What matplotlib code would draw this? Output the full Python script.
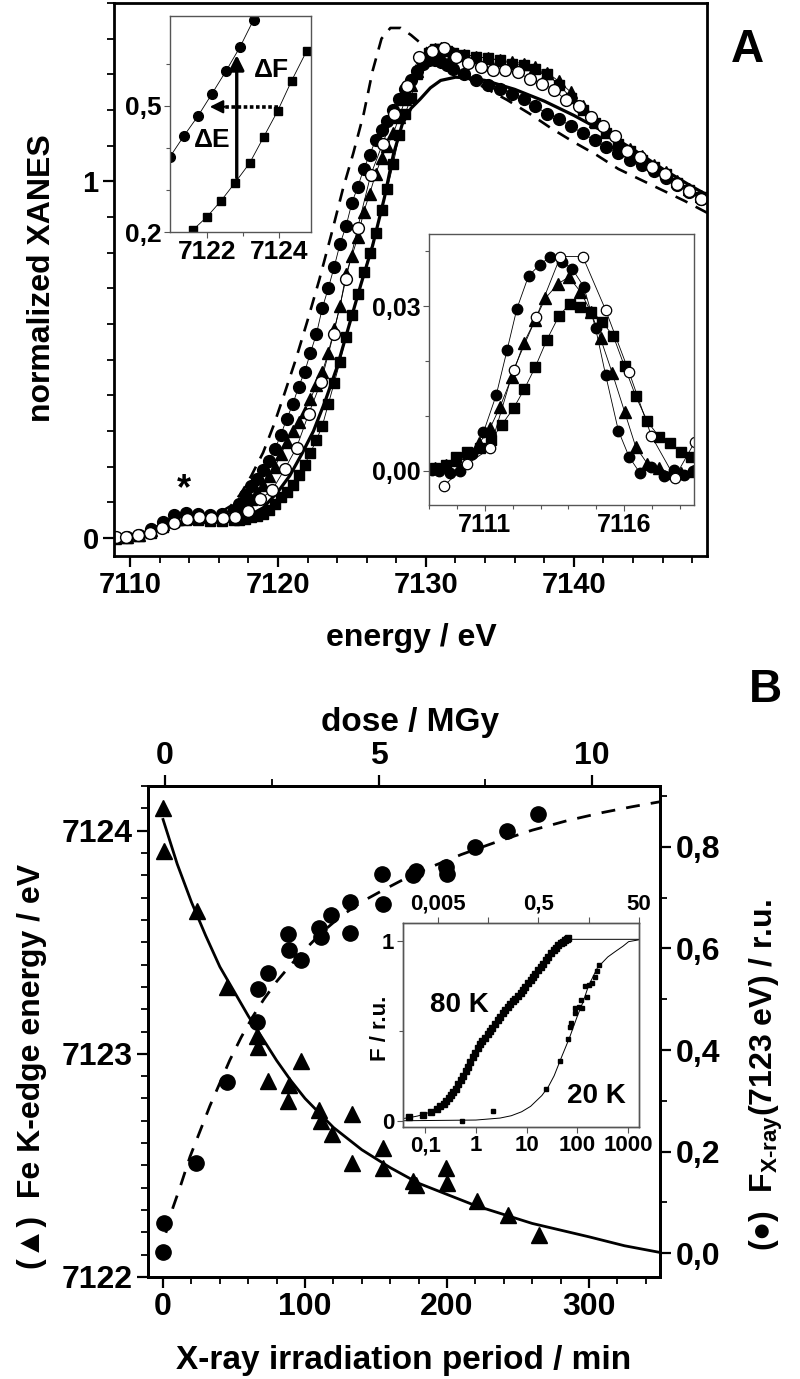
# XANES edge shift (A) and X-ray dose dependence (B)
import matplotlib
matplotlib.use('Agg')
import matplotlib.pyplot as plt
from matplotlib.ticker import MultipleLocator, FixedLocator, FuncFormatter, NullLocator, LogLocator, NullFormatter

plt.rcParams['font.family'] = ['Liberation Sans', 'DejaVu Sans']
plt.rcParams['font.weight'] = 'bold'
plt.rcParams['mathtext.fontset'] = 'custom'
plt.rcParams['mathtext.rm'] = 'Liberation Sans:bold'
plt.rcParams['mathtext.bf'] = 'Liberation Sans:bold'
plt.rcParams['mathtext.it'] = 'Liberation Sans:bold'

# ---------------- panel A data ----------------
e_grid = [7109.0, 7109.8, 7110.6, 7111.4, 7112.2, 7113.0, 7113.8, 7114.6, 7115.4, 7116.2,
          7117.0, 7117.4, 7117.8, 7118.2, 7118.6, 7119.0, 7119.4, 7119.8, 7120.2, 7120.6,
          7121.0, 7121.4, 7121.8, 7122.2, 7122.6, 7123.0, 7123.4, 7123.8, 7124.2, 7124.6,
          7125.0, 7125.4, 7125.8, 7126.2, 7126.6, 7127.0, 7127.4, 7127.8, 7128.2, 7128.6,
          7129.0, 7129.4, 7129.8, 7130.2, 7130.6, 7131.0, 7131.4, 7131.8,
          7132.6, 7133.4, 7134.2, 7135.0, 7135.8, 7136.6, 7137.4, 7138.2, 7139.0, 7139.8,
          7140.6, 7141.4, 7142.2, 7143.0, 7143.8, 7144.6, 7145.4, 7146.2, 7147.0, 7147.8, 7148.6]
fc_v = [0.0, 0.003, 0.010, 0.025, 0.045, 0.065, 0.070, 0.068, 0.065, 0.068,
        0.080, 0.095, 0.120, 0.145, 0.165, 0.190, 0.215, 0.250, 0.290, 0.335,
        0.375, 0.425, 0.465, 0.520, 0.572, 0.645, 0.700, 0.760, 0.825, 0.874,
        0.940, 0.985, 1.035, 1.075, 1.115, 1.145, 1.170, 1.200, 1.230, 1.260,
        1.285, 1.310, 1.330, 1.340, 1.340, 1.335, 1.325, 1.316,
        1.300, 1.285, 1.270, 1.260, 1.245, 1.230, 1.210, 1.190, 1.175, 1.155,
        1.135, 1.115, 1.095, 1.080, 1.060, 1.045, 1.030, 1.010, 0.990, 0.970, 0.950]
tr_v = [0.0, 0.003, 0.010, 0.022, 0.040, 0.058, 0.064, 0.063, 0.060, 0.062,
        0.065, 0.075, 0.090, 0.110, 0.130, 0.150, 0.175, 0.200, 0.235, 0.270,
        0.300, 0.325, 0.355, 0.390, 0.430, 0.465, 0.520, 0.585, 0.650, 0.740,
        0.790, 0.845, 0.915, 0.965, 1.020, 1.065, 1.100, 1.135, 1.180, 1.230,
        1.270, 1.310, 1.340, 1.360, 1.370, 1.375, 1.370, 1.360,
        1.355, 1.350, 1.345, 1.340, 1.335, 1.330, 1.320, 1.305, 1.280, 1.250,
        1.210, 1.170, 1.140, 1.110, 1.090, 1.070, 1.045, 1.025, 1.000, 0.980, 0.960]
sq_v = [0.0, 0.0, 0.005, 0.015, 0.030, 0.045, 0.050, 0.050, 0.048, 0.048,
        0.050, 0.052, 0.055, 0.058, 0.062, 0.068, 0.078, 0.096, 0.115, 0.130,
        0.150, 0.176, 0.205, 0.240, 0.275, 0.315, 0.375, 0.435, 0.495, 0.565,
        0.625, 0.685, 0.745, 0.800, 0.855, 0.920, 0.980, 1.050, 1.130, 1.190,
        1.235, 1.300, 1.340, 1.360, 1.370, 1.370, 1.365, 1.360,
        1.355, 1.350, 1.345, 1.340, 1.330, 1.325, 1.315, 1.300, 1.270, 1.235,
        1.200, 1.165, 1.135, 1.105, 1.085, 1.060, 1.040, 1.020, 0.995, 0.975, 0.955]
oc_e = [7109.06, 7109.71, 7110.52, 7111.35, 7112.16, 7113.0, 7113.83, 7114.66, 7115.47, 7116.28,
        7117.1, 7117.97, 7118.78, 7119.6, 7120.45, 7121.26, 7122.08, 7122.91, 7123.76, 7124.6,
        7125.39, 7126.27, 7127.08, 7127.84, 7128.74, 7129.53, 7130.39, 7131.22, 7132.03, 7132.87,
        7133.72, 7134.55, 7135.37, 7136.2, 7137.04, 7137.85, 7138.68, 7139.47, 7140.33, 7141.16,
        7141.95, 7142.78, 7143.62, 7144.46, 7145.3, 7146.15, 7146.94, 7147.78, 7148.6]
oc_v = [0.003, 0.003, 0.008, 0.014, 0.028, 0.042, 0.053, 0.059, 0.057, 0.056,
        0.060, 0.076, 0.109, 0.134, 0.193, 0.254, 0.349, 0.437, 0.572, 0.727,
        0.870, 1.018, 1.106, 1.190, 1.266, 1.348, 1.365, 1.373, 1.348, 1.332,
        1.322, 1.311, 1.311, 1.306, 1.286, 1.274, 1.257, 1.227, 1.210, 1.180,
        1.155, 1.126, 1.085, 1.068, 1.040, 1.020, 0.994, 0.973, 0.952]
dash_e = [7108.9, 7110.0, 7111.0, 7112.0, 7113.0, 7114.0, 7115.0, 7116.0, 7116.8, 7117.5,
          7118.2, 7119.0, 7119.7, 7120.4, 7121.2, 7122.0, 7122.8, 7123.6, 7124.4, 7125.1,
          7125.8, 7126.4, 7127.0, 7127.6, 7128.3, 7129.0, 7130.0, 7131.0, 7132.0, 7133.0,
          7134.0, 7135.5, 7137.0, 7138.5, 7140.0, 7141.5, 7143.0, 7144.5, 7146.0, 7147.5, 7149.1]
dash_v = [0.0, 0.005, 0.015, 0.035, 0.055, 0.065, 0.065, 0.070, 0.090, 0.125,
          0.175, 0.240, 0.315, 0.400, 0.500, 0.610, 0.725, 0.850, 0.980, 1.080,
          1.190, 1.310, 1.400, 1.430, 1.430, 1.410, 1.375, 1.340, 1.310, 1.285,
          1.262, 1.228, 1.190, 1.148, 1.110, 1.075, 1.035, 1.005, 0.975, 0.945, 0.910]
sol_e = [7108.9, 7111.0, 7113.0, 7115.0, 7117.0, 7118.0, 7119.0, 7120.0, 7120.8, 7121.6,
         7122.4, 7123.2, 7124.0, 7124.8, 7125.6, 7126.4, 7127.2, 7127.8, 7128.4, 7129.0,
         7129.6, 7130.3, 7131.0, 7132.0, 7133.0, 7134.0, 7136.0, 7138.0, 7140.0, 7142.0,
         7144.0, 7146.0, 7148.0, 7149.1]
sol_v = [0.0, 0.012, 0.035, 0.045, 0.05, 0.062, 0.085, 0.13, 0.175, 0.235,
         0.30, 0.385, 0.48, 0.595, 0.71, 0.82, 0.955, 1.075, 1.16, 1.205,
         1.23, 1.262, 1.283, 1.292, 1.29, 1.283, 1.258, 1.225, 1.185, 1.14,
         1.09, 1.035, 0.985, 0.96]

# inset: edge detail
in1_fc_e = [7120.97, 7121.36, 7121.75, 7122.14, 7122.53, 7122.92, 7123.3]
in1_fc_v = [0.379, 0.429, 0.476, 0.529, 0.583, 0.640, 0.705]
in1_sq_e = [7121.61, 7122.0, 7122.39, 7122.78, 7123.19, 7123.58, 7123.97, 7124.36, 7124.78]
in1_sq_v = [0.205, 0.236, 0.274, 0.317, 0.364, 0.426, 0.488, 0.560, 0.631]

# inset: pre-edge
fc2_e = [7109.1, 7109.37, 7109.76, 7110.12, 7110.55, 7110.95, 7111.41, 7111.8, 7112.15, 7112.57,
         7112.97, 7113.35, 7113.77, 7114.13, 7114.55, 7114.97, 7115.33, 7115.79, 7116.17, 7116.55,
         7116.95, 7117.43, 7117.79, 7118.15, 7118.45]
fc2_v = [0.0002, 0.0, -0.0004, 0.0, 0.003, 0.007, 0.0138, 0.022, 0.0295, 0.0355,
         0.0375, 0.039, 0.038, 0.0368, 0.0335, 0.026, 0.0175, 0.0073, 0.0026, -0.0003,
         0.0008, -0.0009, 0.0002, -0.0007, 0.0]
tr2_e = [7109.2, 7109.6, 7109.97, 7110.41, 7110.81, 7111.19, 7111.55, 7111.97, 7112.39, 7112.81,
         7113.17, 7113.62, 7114.01, 7114.43, 7114.8, 7115.15, 7115.57, 7116.01, 7116.41, 7116.83,
         7117.25, 7117.67, 7118.03, 7118.45]
tr2_v = [0.0005, 0.001, 0.002, 0.0032, 0.0051, 0.0078, 0.0117, 0.0171, 0.0232, 0.0275,
         0.0314, 0.034, 0.0353, 0.0326, 0.029, 0.0241, 0.0178, 0.0108, 0.0044, 0.0013,
         0.0005, -0.0004, -0.0004, -0.0001]
oc2_e = [7109.54, 7110.38, 7111.19, 7112.03, 7112.85, 7113.71, 7114.51, 7115.33, 7116.17, 7116.97, 7117.81, 7118.53]
oc2_v = [-0.0027, 0.0013, 0.0041, 0.0184, 0.028, 0.039, 0.039, 0.0293, 0.018, 0.0064, -0.0012, 0.0053]
sq2_e = [7109.2, 7109.6, 7109.98, 7110.36, 7110.83, 7111.22, 7111.61, 7112.03, 7112.42, 7112.81,
         7113.23, 7113.65, 7114.04, 7114.41, 7114.82, 7115.21, 7115.61, 7116.01, 7116.41, 7116.83,
         7117.25, 7117.64, 7118.03, 7118.39]
sq2_v = [0.0005, 0.001, 0.0025, 0.0035, 0.0041, 0.0056, 0.0084, 0.0114, 0.0149, 0.0189,
         0.0239, 0.0281, 0.0304, 0.0299, 0.029, 0.0271, 0.0245, 0.019, 0.0136, 0.009,
         0.0062, 0.005, 0.0035, 0.0026]

# ---------------- panel B data ----------------
tri_t = [0, 1, 24, 45, 66, 67, 74, 88, 89, 97, 110, 111, 119, 133, 133, 155, 155, 176, 178, 199, 200, 221, 243, 265]
tri_e = [7124.10, 7123.91, 7123.64, 7123.30, 7123.08, 7123.03, 7122.88, 7122.79, 7122.86, 7122.97,
         7122.75, 7122.70, 7122.64, 7122.73, 7122.51, 7122.58, 7122.49, 7122.43, 7122.41, 7122.49,
         7122.42, 7122.34, 7122.28, 7122.19]
fit_t = [0, 10, 20, 30, 40, 50, 60, 70, 80, 90, 100, 120, 140, 160, 180, 200, 220, 240, 260, 280, 300, 325, 350]
fit_e = [7124.05, 7123.85, 7123.68, 7123.53, 7123.39, 7123.28, 7123.17, 7123.07, 7122.97, 7122.88,
         7122.80, 7122.67, 7122.57, 7122.49, 7122.42, 7122.37, 7122.32, 7122.28, 7122.24, 7122.21,
         7122.18, 7122.14, 7122.11]
circ_t = [0, 1, 23, 45, 66, 67, 74, 88, 89, 97, 110, 111, 118, 132, 132, 154, 155, 176, 178, 199, 200, 220, 242, 264]
circ_f = [0.003, 0.060, 0.178, 0.338, 0.455, 0.521, 0.551, 0.629, 0.597, 0.577, 0.640, 0.622,
          0.666, 0.692, 0.631, 0.746, 0.688, 0.745, 0.752, 0.760, 0.747, 0.800, 0.831, 0.864]
dfit_t = [2, 7, 12, 19, 26, 33, 40, 47, 55, 63, 71, 80, 90, 100, 112, 125, 140, 155, 170, 190,
          210, 235, 260, 285, 310, 330, 350]
dfit_f = [0.04, 0.09, 0.13, 0.19, 0.24, 0.29, 0.335, 0.38, 0.425, 0.465, 0.50, 0.535, 0.568, 0.598,
          0.632, 0.663, 0.692, 0.715, 0.737, 0.762, 0.785, 0.81, 0.833, 0.852, 0.868, 0.879, 0.889]

# inset B: 80 K and 20 K kinetics
k80_x = [0.048, 0.09, 0.13, 0.17, 0.2, 0.23, 0.26, 0.29, 0.32, 0.36, 0.4, 0.45, 0.5, 0.56, 0.63,
         0.7, 0.78, 0.87, 0.97, 1.08, 1.2, 1.35, 1.5, 1.7, 1.9, 2.1, 2.4, 2.7, 3.0, 3.4, 3.8,
         4.3, 4.8, 5.4, 6.0, 6.8, 7.6, 8.5, 9.5, 10.7, 12, 13.5, 15, 17, 19, 21, 24, 27, 30,
         34, 38, 42, 47, 52, 57, 62, 66]
k80_f = [0.022, 0.032, 0.046, 0.066, 0.082, 0.095, 0.112, 0.128, 0.142, 0.16, 0.178, 0.204, 0.225,
         0.25, 0.275, 0.298, 0.325, 0.352, 0.378, 0.402, 0.425, 0.445, 0.462, 0.482, 0.5, 0.518,
         0.54, 0.56, 0.577, 0.597, 0.613, 0.632, 0.648, 0.664, 0.678, 0.695, 0.71, 0.727, 0.745,
         0.763, 0.782, 0.8, 0.818, 0.838, 0.856, 0.872, 0.893, 0.912, 0.93, 0.948, 0.962, 0.975,
         0.986, 0.995, 1.004, 1.01, 1.015]
fit80_x = [0.036, 0.05, 0.07, 0.1, 0.15, 0.2, 0.3, 0.5, 0.7, 1, 1.5, 2, 3, 5, 8, 12, 20, 30, 45,
           60, 80, 120, 1630]
fit80_f = [0.012, 0.018, 0.026, 0.038, 0.058, 0.08, 0.132, 0.225, 0.298, 0.39, 0.462, 0.51, 0.577,
           0.655, 0.72, 0.78, 0.865, 0.925, 0.983, 1.005, 1.008, 1.008, 1.008]
k20_x = [0.53, 2.13, 24, 46, 67, 72.8, 76, 88.5, 90, 109, 120, 126, 144, 155, 167, 194, 219, 244, 263]
k20_f = [0.0, 0.056, 0.174, 0.333, 0.452, 0.519, 0.544, 0.597, 0.624, 0.63, 0.67, 0.624, 0.748,
         0.689, 0.754, 0.763, 0.8, 0.833, 0.865]
fit20_x = [0.036, 1, 3, 5, 8, 12, 20, 27, 35, 50, 70, 100, 130, 167, 250, 400, 562, 800, 1030, 1630]
fit20_f = [0.0, 0.004, 0.015, 0.028, 0.05, 0.08, 0.14, 0.19, 0.25, 0.36, 0.46, 0.58, 0.66, 0.75,
           0.85, 0.91, 0.94, 0.97, 0.995, 1.005]

W, H = 800, 1379
fig = plt.figure(figsize=(W / 100, H / 100), dpi=100)


def px_axes(l, t, r, b):
    return fig.add_axes([l / W, 1 - b / H, (r - l) / W, (b - t) / H])


def comma(fmt):
    return FuncFormatter(lambda v, p: (fmt % v).replace('.', ','))


def style_main(ax, size):
    for s in ax.spines.values():
        s.set_linewidth(2)
    ax.tick_params(which='major', direction='out', length=8, width=1.6, labelsize=size, pad=3)
    ax.tick_params(which='minor', direction='out', length=5, width=1.3)


def style_inset(ax, size):
    for s in ax.spines.values():
        s.set_linewidth(1.0)
        s.set_color('#555555')
    ax.tick_params(which='major', direction='out', length=4, width=0.8, labelsize=size, pad=2,
                   color='#555555')
    ax.tick_params(which='minor', direction='out', length=3, width=0.8, color='#555555')


# ---------------- panel A ----------------
axA = px_axes(114, 3, 707, 556)
axA.plot(dash_e, dash_v, color='k', lw=1.9, ls='--', dashes=(5, 3.5))
axA.plot(sol_e, sol_v, color='k', lw=2.3)
axA.plot(e_grid, fc_v, color='k', lw=0.6, marker='o', ms=8.5, mfc='k', mec='k')
axA.plot(e_grid, tr_v, color='k', lw=0.6, marker='^', ms=9, mfc='k', mec='k')
axA.plot(e_grid, sq_v, color='k', lw=0.6, marker='s', ms=7.5, mfc='k', mec='k')
axA.plot(oc_e, oc_v, color='k', lw=0.6, marker='o', ms=8.5, mfc='white', mec='k', mew=1.0)
axA.set_xlim(7108.92, 7149.0)
axA.set_ylim(-0.05, 1.5)
axA.xaxis.set_major_locator(MultipleLocator(10))
axA.xaxis.set_minor_locator(MultipleLocator(2))
axA.yaxis.set_major_locator(MultipleLocator(1))
axA.yaxis.set_minor_locator(MultipleLocator(0.1))
style_main(axA, 21)
fig.text(411 / W, 1 - 646 / H, 'energy / eV', ha='center', va='baseline', fontsize=23)
fig.text(42 / W, 1 - 278 / H, 'normalized XANES', ha='center', va='center', rotation=90, fontsize=23)
fig.text(184 / W, 1 - 490 / H, '*', ha='center', va='center', fontsize=26)
fig.text(747 / W, 1 - 50 / H, 'A', ha='center', va='center', fontsize=33)

# inset: edge detail
ax1 = px_axes(170, 16, 311, 232)
ax1.plot(in1_fc_e, in1_fc_v, color='k', lw=0.6, marker='o', ms=7, mfc='k', mec='k')
ax1.plot(in1_sq_e, in1_sq_v, color='k', lw=0.6, marker='s', ms=6, mfc='k', mec='k')
ax1.annotate('', xy=(7122.83, 0.621), xytext=(7122.83, 0.329),
             arrowprops=dict(arrowstyle='-|>', lw=2.4, color='k', mutation_scale=22, shrinkA=0, shrinkB=0))
ax1.plot([7123.97, 7122.4], [0.498, 0.498], color='k', lw=2.6, ls=(0, (1.0, 0.7)))
ax1.annotate('', xy=(7122.08, 0.498), xytext=(7122.5, 0.498),
             arrowprops=dict(arrowstyle='-|>', lw=1.5, color='k', mutation_scale=20, shrinkA=0, shrinkB=0))
ax1.text(7123.8, 0.586, 'ΔF', ha='center', va='center', fontsize=19)
ax1.text(7122.14, 0.419, 'ΔE', ha='center', va='center', fontsize=19)
ax1.set_xlim(7120.97, 7124.9)
ax1.set_ylim(0.2, 0.714)
ax1.xaxis.set_major_locator(FixedLocator([7122, 7124]))
ax1.xaxis.set_minor_locator(FixedLocator([7123]))
ax1.yaxis.set_major_locator(FixedLocator([0.2, 0.5]))
ax1.yaxis.set_minor_locator(FixedLocator([0.3, 0.4, 0.6]))
ax1.yaxis.set_major_formatter(comma('%.1f'))
style_inset(ax1, 19)

# inset: pre-edge
ax2 = px_axes(429, 234, 694, 505)
ax2.plot(sq2_e, sq2_v, color='k', lw=0.6, marker='s', ms=6.5, mfc='k', mec='k')
ax2.plot(tr2_e, tr2_v, color='k', lw=0.6, marker='^', ms=8, mfc='k', mec='k')
ax2.plot(fc2_e, fc2_v, color='k', lw=0.6, marker='o', ms=7.5, mfc='k', mec='k')
ax2.plot(oc2_e, oc2_v, color='k', lw=0.6, marker='o', ms=7.5, mfc='white', mec='k', mew=0.9)
ax2.set_xlim(7109, 7118.5)
ax2.set_ylim(-0.0062, 0.0431)
ax2.xaxis.set_major_locator(FixedLocator([7111, 7116]))
ax2.xaxis.set_minor_locator(MultipleLocator(1))
ax2.yaxis.set_major_locator(FixedLocator([0.0, 0.03]))
ax2.yaxis.set_minor_locator(FixedLocator([0.01, 0.02, 0.04]))
ax2.yaxis.set_major_formatter(comma('%.2f'))
style_inset(ax2, 18)

# ---------------- panel B ----------------
axB = px_axes(148, 786, 660, 1277)
axB.plot(fit_t, fit_e, color='k', lw=2.0)
axB.plot(tri_t, tri_e, ls='none', marker='^', ms=12, mfc='k', mec='k')
axB.set_xlim(-10.6, 350)
axB.set_ylim(7122, 7124.2)
axB.xaxis.set_major_locator(MultipleLocator(100))
axB.xaxis.set_minor_locator(MultipleLocator(20))
axB.yaxis.set_major_locator(MultipleLocator(1))
axB.yaxis.set_minor_locator(MultipleLocator(0.1))
axB.yaxis.set_major_formatter(FuncFormatter(lambda v, p: '%d' % round(v)))
style_main(axB, 23)

axR = axB.twinx()
axR.plot(dfit_t, dfit_f, color='k', lw=2.0, ls='--', dashes=(5, 4))
axR.plot(circ_t, circ_f, ls='none', marker='o', ms=11, mfc='k', mec='k')
axR.set_ylim(-0.047, 0.92)
axR.yaxis.set_major_locator(MultipleLocator(0.2))
axR.yaxis.set_minor_locator(MultipleLocator(0.1))
axR.yaxis.set_major_formatter(comma('%.1f'))
style_main(axR, 23)

axT = axB.twiny()
axT.set_xlim(-0.398, 11.59)
axT.xaxis.set_major_locator(MultipleLocator(5))
axT.xaxis.set_minor_locator(MultipleLocator(2.5))
style_main(axT, 23)

fig.text(404 / W, 1 - 1360 / H, 'X-ray irradiation period / min', ha='center', va='center', fontsize=24)
fig.text(410 / W, 1 - 723 / H, 'dose / MGy', ha='center', va='center', fontsize=24)
fig.text(32 / W, 1 - 1066 / H, '(▲)  Fe K-edge energy / eV', ha='center', va='center',
         rotation=90, fontsize=23)
fig.text(766 / W, 1 - 1075 / H, r'(●)  F$_{\text{X-ray}}$(7123 eV) / r.u.', ha='center', va='center',
         rotation=90, fontsize=23)
fig.text(765 / W, 1 - 690 / H, 'B', ha='center', va='center', fontsize=33)

# inset B
axI = px_axes(402.7, 923.3, 638.7, 1126.7)
axI.set_zorder(5)
axI.set_xscale('log')
axI.plot(fit80_x, fit80_f, color='k', lw=0.7)
axI.plot(fit20_x, fit20_f, color='k', lw=0.7)
axI.plot(k80_x, k80_f, ls='none', marker='s', ms=4.5, mfc='k', mec='k')
axI.plot(k20_x, k20_f, ls='none', marker='s', ms=3.5, mfc='k', mec='k')
axI.set_xlim(0.036, 1630)
axI.set_ylim(-0.033, 1.097)
axI.xaxis.set_major_locator(FixedLocator([0.1, 1, 10, 100, 1000]))
axI.xaxis.set_major_formatter(FuncFormatter(lambda v, p: {0.1: '0,1', 1: '1', 10: '10', 100: '100', 1000: '1000'}.get(v, '')))
axI.xaxis.set_minor_locator(LogLocator(base=10, subs=(2, 3, 4, 5, 6, 7, 8, 9)))
axI.xaxis.set_minor_formatter(NullFormatter())
axI.yaxis.set_major_locator(FixedLocator([0, 1]))
axI.yaxis.set_minor_locator(FixedLocator([0.5]))
style_inset(axI, 16)
axI.text(0.24, 0.60, '80 K', transform=axI.transAxes, ha='center', va='center', fontsize=20)
axI.text(0.82, 0.15, '20 K', transform=axI.transAxes, ha='center', va='center', fontsize=20)
fig.text(380 / W, 1 - 1028 / H, 'F / r.u.', ha='center', va='center', rotation=90, fontsize=16)

axIt = axI.twiny()
axIt.set_zorder(6)
axIt.set_xscale('log')
axIt.set_xlim(0.00098, 50)
axIt.xaxis.set_major_locator(FixedLocator([0.005, 0.05, 0.5, 5, 50]))
axIt.xaxis.set_major_formatter(FuncFormatter(lambda v, p: {0.005: '0,005', 0.5: '0,5', 50: '50'}.get(round(v, 3), '')))
axIt.xaxis.set_minor_locator(NullLocator())
style_inset(axIt, 16)
axIt.patch.set_visible(False)

fig.savefig('out.png', dpi=100)
